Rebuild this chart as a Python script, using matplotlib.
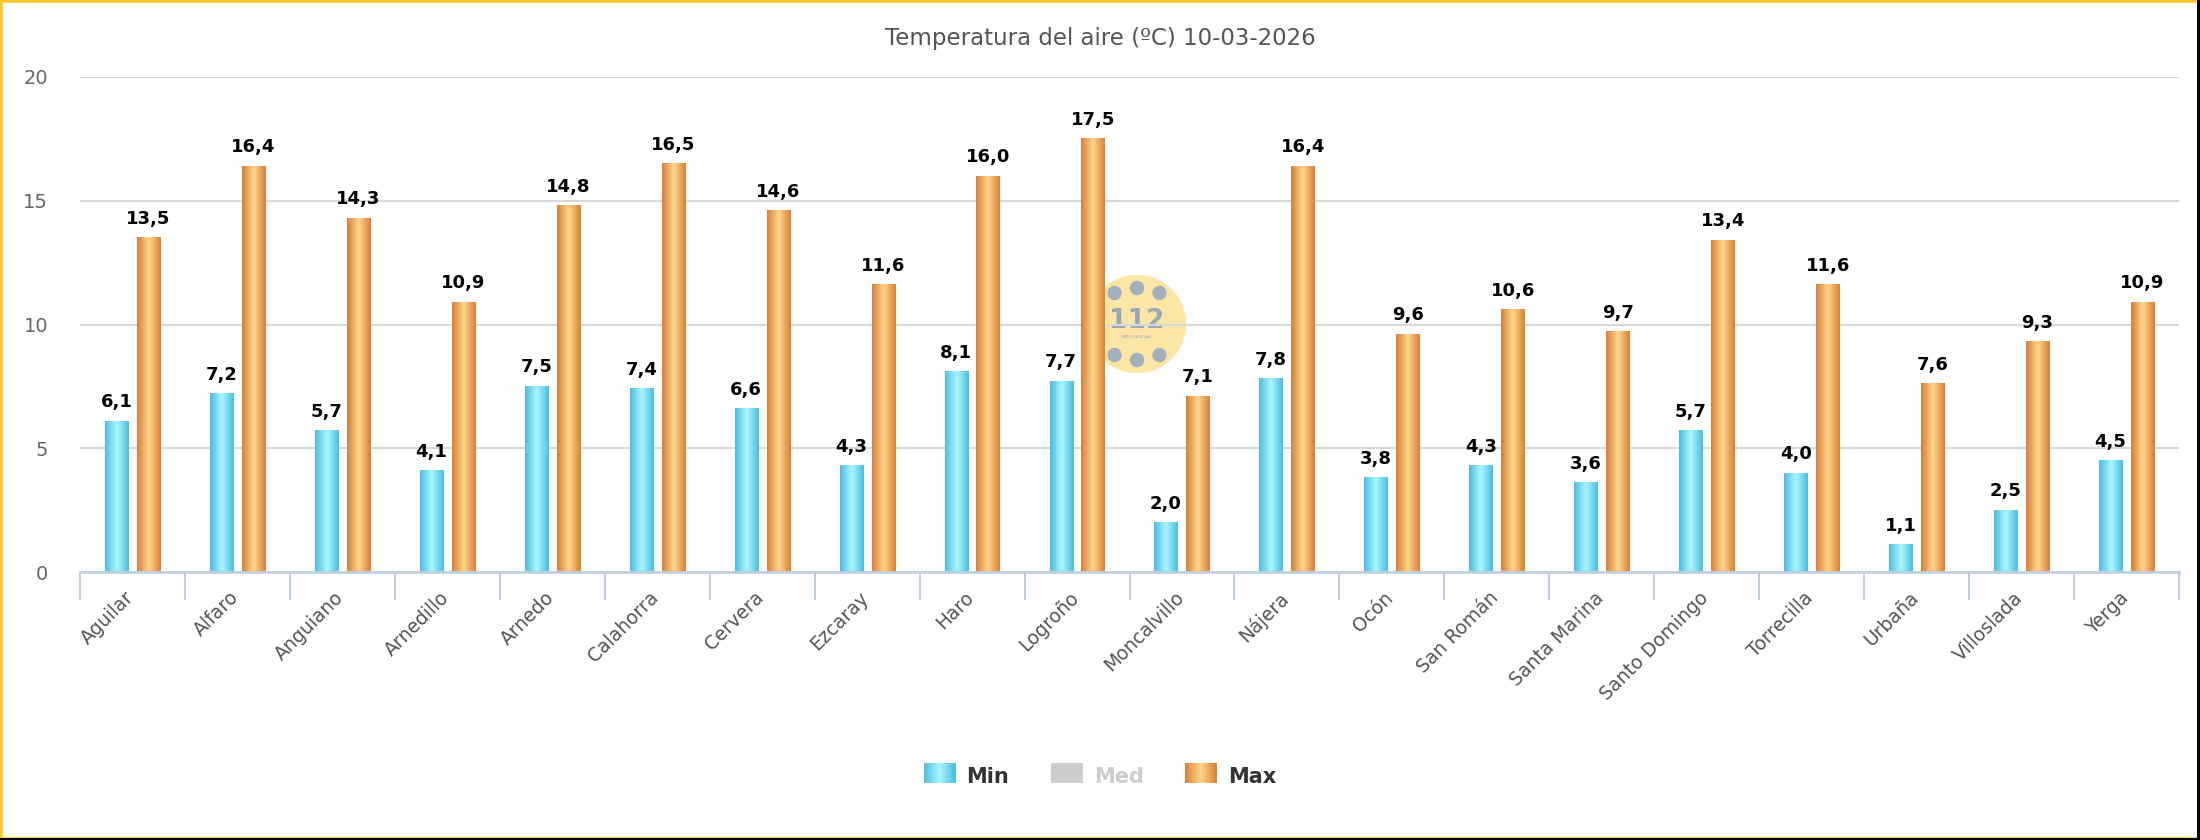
import numpy as np
import matplotlib
matplotlib.use("Agg")
import matplotlib.pyplot as plt
import matplotlib.transforms as mtransforms
from matplotlib.patches import Rectangle, Circle
from matplotlib.legend_handler import HandlerBase
from matplotlib.colors import LinearSegmentedColormap

stations = ["Aguilar", "Alfaro", "Anguiano", "Arnedillo", "Arnedo", "Calahorra",
            "Cervera", "Ezcaray", "Haro", "Logroño", "Moncalvillo", "Nájera",
            "Ocón", "San Román", "Santa Marina", "Santo Domingo", "Torrecilla",
            "Urbaña", "Villoslada", "Yerga"]
t_min = [6.1, 7.2, 5.7, 4.1, 7.5, 7.4, 6.6, 4.3, 8.1, 7.7,
         2.0, 7.8, 3.8, 4.3, 3.6, 5.7, 4.0, 1.1, 2.5, 4.5]
t_max = [13.5, 16.4, 14.3, 10.9, 14.8, 16.5, 14.6, 11.6, 16.0, 17.5,
         7.1, 16.4, 9.6, 10.6, 9.7, 13.4, 11.6, 7.6, 9.3, 10.9]
y_ticks = [0, 5, 10, 15, 20]
title = "Temperatura del aire (ºC) 10-03-2026"

plt.rcParams['font.family'] = ['DejaVu Sans']

cyan = LinearSegmentedColormap.from_list("cy", ["#4cbde0", "#a9f7ff", "#4cbde0"])
orange = LinearSegmentedColormap.from_list("or", ["#d97f38", "#ffd68c", "#d97f38"])
grad = np.linspace(0, 1, 64).reshape(1, -1)


def fmt(v):
    return f"{v:.1f}".replace(".", ",")


fig = plt.figure(figsize=(22, 8.4), dpi=100)
ax = fig.add_axes([80 / 2200, 1 - 572 / 840, (2179 - 80) / 2200, (572 - 77) / 840])

x = np.arange(len(stations))
w = 0.22
off = 0.152

# 112 watermark (behind bars and grid)
logo = fig.add_axes([(1137 - 50) / 2200, 1 - (324 + 50) / 840, 100 / 2200, 100 / 840])
logo.set_xlim(-1, 1)
logo.set_ylim(-1, 1)
logo.set_aspect("equal")
logo.axis("off")
logo.add_patch(Circle((0, 0), 0.97, color="#fce6a6"))
for a in [-0.45, 0, 0.45]:
    dy = 0.1 if a == 0 else 0
    logo.add_patch(Circle((a, 0.62 + dy), 0.13, color="#a3afba"))
    logo.add_patch(Circle((a, -0.62 - dy), 0.13, color="#a3afba"))
logo.text(0, 0.06, "112", ha="center", va="center", fontsize=19, fontweight="bold", color="#9aa8b5")
logo.text(0, -0.27, "EMERGENCIAS", ha="center", va="center", fontsize=3, color="#9aa8b5")
logo.set_zorder(0)
ax.set_zorder(1)
ax.patch.set_alpha(0)

bars_min = ax.bar(x - off, t_min, w, color="none", zorder=3)
bars_max = ax.bar(x + off, t_max, w, color="none", zorder=3)
for bars, cmap, vals in [(bars_min, cyan, t_min), (bars_max, orange, t_max)]:
    for b, v in zip(bars, vals):
        x0 = b.get_x()
        ax.imshow(grad, cmap=cmap, aspect="auto", zorder=3,
                  extent=(x0, x0 + b.get_width(), 0, b.get_height()))
        ax.annotate(fmt(v), (x0 + b.get_width() / 2, b.get_height()),
                    xytext=(0, 10), textcoords="offset pixels",
                    ha="center", va="bottom", fontsize=13, fontweight="bold",
                    color="#000000", zorder=5)

ax.set_xlim(-0.5, len(stations) - 0.5)
ax.set_ylim(0, 20)
ax.set_yticks(y_ticks)
ax.set_yticklabels([str(t) for t in y_ticks], fontsize=14, color="#666666")
ax.tick_params(axis="y", length=0, pad=23)
ax.grid(axis="y", color="#d8d8d8", linewidth=1.5, zorder=0)
ax.set_axisbelow(True)

ax.set_xticks(x)
ax.set_xticklabels(stations, rotation=45, ha="right", rotation_mode="anchor",
                   fontsize=13.5, color="#555555")
ax.tick_params(axis="x", length=0, pad=13)
shift = mtransforms.ScaledTranslation(-8 / 100, 2 / 100, fig.dpi_scale_trans)
for lbl in ax.get_xticklabels():
    lbl.set_transform(lbl.get_transform() + shift)
ax.set_xticks(np.arange(len(stations) + 1) - 0.5, minor=True)
ax.tick_params(axis="x", which="minor", length=20, width=1.5, color="#c0d0e0")

for s in ["top", "right", "left"]:
    ax.spines[s].set_visible(False)
ax.spines["bottom"].set_color("#c0d0e0")
ax.spines["bottom"].set_linewidth(2)
ax.spines["bottom"].set_zorder(4)

fig.text(0.5, 1 - 39 / 840, title, ha="center", va="center", fontsize=16.5, color="#555555")


class GradHandler(HandlerBase):
    def __init__(self, cmap):
        super().__init__()
        self.cmap = cmap

    def create_artists(self, legend, orig, xd, yd, width, height, fontsize, trans):
        n = 24
        arts = []
        for i in range(n):
            c = self.cmap((i + 0.5) / n) if self.cmap is not None else "#cccccc"
            r = Rectangle((xd + width * i / n, yd - 1), width / n + 0.3, height + 2,
                          facecolor=c, edgecolor="none", transform=trans)
            arts.append(r)
        return arts


h_min = Rectangle((0, 0), 1, 1)
h_med = Rectangle((0, 0), 1, 1)
h_max = Rectangle((0, 0), 1, 1)
leg = fig.legend([h_min, h_med, h_max], ["Min", "Med", "Max"],
                 loc="center", bbox_to_anchor=(1100 / 2200, 1 - 777 / 840), ncol=3,
                 frameon=False, handlelength=1.5, handleheight=0.9,
                 handletextpad=0.55, columnspacing=2.0,
                 prop={"size": 15, "weight": "bold"},
                 handler_map={h_min: GradHandler(cyan), h_med: GradHandler(None),
                              h_max: GradHandler(orange)})
for t, c in zip(leg.get_texts(), ["#333333", "#cccccc", "#333333"]):
    t.set_color(c)

# frame
fig.patches.append(Rectangle((0, 0), 1, 1, transform=fig.transFigure, fill=False,
                             edgecolor="#f8c630", linewidth=4, zorder=10))
fig.patches.append(Rectangle((1 - 3 / 2200, 0), 3 / 2200, 1, transform=fig.transFigure,
                             facecolor="#000000", edgecolor="none", zorder=11))
fig.patches.append(Rectangle((0, 0), 1, 2 / 840, transform=fig.transFigure,
                             facecolor="#000000", edgecolor="none", zorder=11))

fig.savefig("out.png", dpi=100, facecolor="white")
